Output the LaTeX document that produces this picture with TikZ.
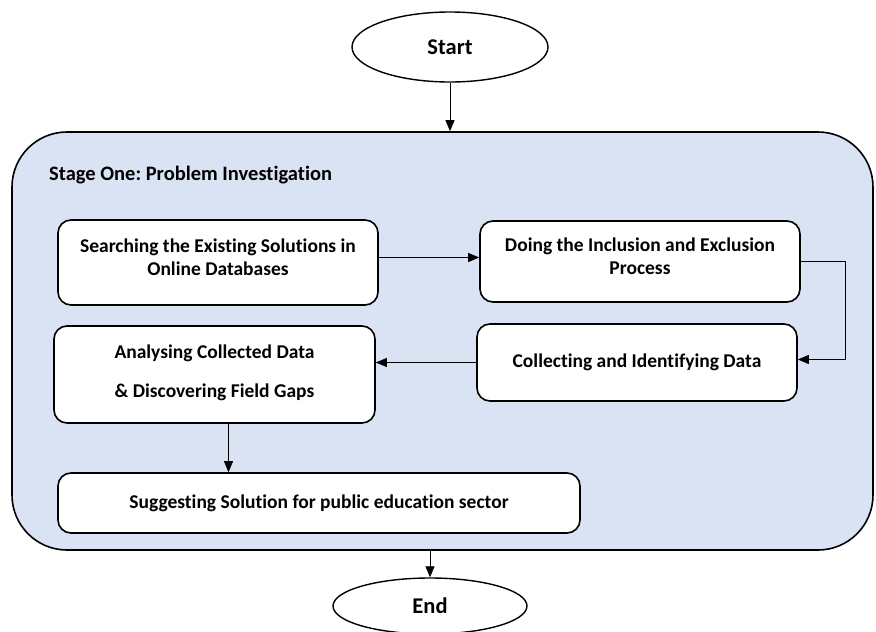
\documentclass[tikz,border=0pt]{standalone}
\usepackage{fontspec}
\setmainfont{Carlito}[Ligatures=NoCommon]
\usetikzlibrary{shapes.geometric,arrows.meta,calc}
\definecolor{stagefill}{HTML}{DAE3F3}
\tikzset{
  box/.style={draw=black, line width=1.6pt, fill=white, rounded corners=13pt, align=center,
    font=\fontsize{19.5}{23}\selectfont\bfseries, inner sep=0pt},
  term/.style={draw=black, line width=1.4pt, fill=white, ellipse, inner sep=0pt,
    font=\fontsize{22.5}{26}\selectfont\bfseries},
  stagebox/.style={draw=black, line width=1.6pt, fill=stagefill, rounded corners=55pt, inner sep=0pt},
  arr/.style={draw=black, line width=0.8pt, -{Triangle[length=11pt,width=9pt]}}
}
\begin{document}
\frenchspacing
\begin{tikzpicture}[x=1pt,y=-1pt]
\useasboundingbox (0,0) rectangle (876,632);
\node[stagebox, minimum width=861pt, minimum height=418pt] (stage) at (442.5,341) {};
\node[anchor=west, font=\fontsize{20.5}{24}\selectfont\bfseries, inner sep=0pt] (title) at (49,175) {Stage One: Problem Investigation};
\node[term, minimum width=196pt, minimum height=70pt] (start) at (450,47) {Start};
\node[term, minimum width=194pt, minimum height=56pt] (end) at (430,606) {End};
\node[box, minimum width=320pt, minimum height=85pt, text depth=11pt] (b1) at (218,262.5) {Searching the Existing Solutions in\\Online Databases};
\node[box, minimum width=320pt, minimum height=81pt, text depth=11pt] (b2) at (640,261.5) {Doing the Inclusion and Exclusion\\Process};
\node[box, minimum width=320pt, minimum height=77pt] (b3) at (637,362.5) {Collecting and Identifying Data};
\node[box, minimum width=321pt, minimum height=97pt, text depth=6pt, font=\fontsize{19.5}{39}\selectfont\bfseries] (b4) at (214.5,374.5) {Analysing Collected Data\\\& Discovering Field Gaps};
\node[box, minimum width=522pt, minimum height=60pt] (b5) at (319,503) {Suggesting Solution for public education sector};
\draw[arr] (start.south) -- (start.south |- stage.north);
\draw[arr] ([yshift=5pt]b1.east) -- ([yshift=5pt]b1.east -| b2.west);
\draw[arr] (b2.east) -- ++(45,0) |- ([yshift=3pt]b3.east);
\draw[arr] (b3.west) -- (b3.west -| b4.east);
\draw[arr] ([xshift=14pt]b4.south) -- ([xshift=14pt]b4.south |- b5.north);
\draw[arr] (end.north |- stage.south) -- (end.north);
\end{tikzpicture}
\end{document}
